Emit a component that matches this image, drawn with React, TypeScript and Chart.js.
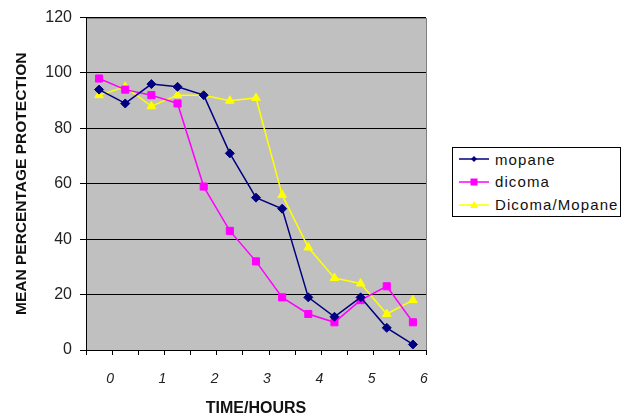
import React, { useEffect, useRef } from "react";
import { Chart, registerables } from "chart.js";

Chart.register(...registerables);

const timeLabels = ["0", "0.5", "1", "1.5", "2", "2.5", "3", "3.5", "4", "4.5", "5", "5.5", "6"];
const mopane = [94, 89, 96, 95, 92, 71, 55, 51, 19, 12, 19, 8, 2];
const dicoma = [98, 94, 92, 89, 59, 43, 32, 19, 13, 10, 18, 23, 10];
const dicomaMopane = [92, 95, 88, 92, 92, 90, 91, 56, 37, 26, 24, 13, 18];
const yTicks = { min: 0, max: 120, step: 20 };

const seriesNames = ["mopane", "dicoma", "Dicoma/Mopane"];
const seriesColors = ["#000080", "#FF00FF", "#FFFF00"];
const seriesMarkers = ["rectRot", "rect", "triangle"];

const FONT = "'Liberation Sans', Arial, sans-serif";

const plotBg = {
  id: "plotBg",
  beforeDraw(chart: any) {
    const { ctx, chartArea: a } = chart;
    ctx.save();
    ctx.fillStyle = "#C0C0C0";
    ctx.fillRect(a.left, a.top, a.right - a.left, a.bottom - a.top);
    ctx.strokeStyle = "#808080";
    ctx.lineWidth = 1;
    ctx.strokeRect(Math.round(a.left) + 0.5, Math.round(a.top) + 0.5, Math.round(a.right - a.left), Math.round(a.bottom - a.top));
    ctx.restore();
  },
};

function Marker({ kind, color }: { kind: string; color: string }) {
  let shape: any;
  if (kind === "rectRot") shape = <polygon points="15,2 18,5 15,8 12,5" fill={color} />;
  else if (kind === "rect") shape = <rect x={11.5} y={1.5} width={7} height={7} fill={color} />;
  else shape = <polygon points="15,1 19,8 11,8" fill={color} />;
  return (
    <svg width={30} height={10} style={{ display: "block" }}>
      <line x1={0} y1={5} x2={30} y2={5} stroke={color} strokeWidth={1.5} />
      {shape}
    </svg>
  );
}

export default function App() {
  const ref = useRef<HTMLCanvasElement>(null);
  useEffect(() => {
    const values = [mopane, dicoma, dicomaMopane];
    const chart = new Chart(ref.current as HTMLCanvasElement, {
      type: "line",
      data: {
        labels: timeLabels,
        datasets: values.map((d, i) => ({
          label: seriesNames[i],
          data: d,
          borderColor: seriesColors[i],
          backgroundColor: seriesColors[i],
          pointBackgroundColor: seriesColors[i],
          pointBorderColor: seriesColors[i],
          pointStyle: seriesMarkers[i] as any,
          pointRadius: i === 1 ? 5 : i === 0 ? 4.5 : 5,
          pointBorderWidth: 1,
          borderWidth: 1.5,
          tension: 0,
          fill: false,
        })),
      },
      options: {
        responsive: false,
        animation: false,
        layout: { padding: { top: 15, right: 203, bottom: 0, left: 0 } },
        plugins: { legend: { display: false }, tooltip: { enabled: false } },
        scales: {
          x: {
            type: "category",
            offset: true,
            afterFit: (s: any) => {
              s.height = 68;
            },
            grid: { offset: true, drawOnChartArea: false, drawTicks: true, tickLength: 5, color: "#000", lineWidth: 1 },
            border: { color: "#000", width: 1 },
            ticks: {
              autoSkip: false,
              maxRotation: 0,
              minRotation: 0,
              labelOffset: 11,
              padding: 16,
              color: "#222",
              font: { family: FONT, size: 14, style: "italic" },
              callback: (_v: any, i: number) => (Number(timeLabels[i]) % 1 === 0 ? timeLabels[i] : ""),
            },
            title: {
              display: true,
              text: "TIME/HOURS",
              color: "#111",
              font: { family: FONT, size: 16, weight: "bold" },
              padding: { top: 0, bottom: 0 },
            },
          },
          y: {
            min: yTicks.min,
            max: yTicks.max,
            afterFit: (s: any) => {
              s.width = 86;
            },
            grid: { color: "#000", lineWidth: 1, drawTicks: true, tickLength: 6 },
            border: { color: "#000", width: 1 },
            ticks: {
              stepSize: yTicks.step,
              padding: 8,
              color: "#222",
              font: { family: FONT, size: 16 },
            },
            title: {
              display: true,
              text: "MEAN PERCENTAGE PROTECTION",
              color: "#111",
              font: { family: FONT, size: 15.5, weight: "bold" },
              padding: { top: 12, bottom: 0 },
            },
          },
        },
      },
      plugins: [plotBg],
    });
    return () => chart.destroy();
  }, []);

  return (
    <div style={{ position: "fixed", left: 0, top: 0, width: 629, height: 418, background: "#fff" }}>
      <canvas ref={ref} width={629} height={418} />
      <div
        style={{
          position: "absolute",
          left: 452,
          top: 147,
          width: 169,
          height: 70,
          border: "1px solid #000",
          background: "#fff",
          fontFamily: FONT,
          fontSize: 15,
          letterSpacing: "1.1px",
          color: "#111",
          display: "flex",
          flexDirection: "column",
          justifyContent: "space-around",
          paddingLeft: 6,
          boxSizing: "border-box",
        }}
      >
        {seriesNames.map((n, i) => (
          <div key={n} style={{ display: "flex", alignItems: "center", height: 22 }}>
            <Marker kind={seriesMarkers[i]} color={seriesColors[i]} />
            <span style={{ marginLeft: 6 }}>{n}</span>
          </div>
        ))}
      </div>
    </div>
  );
}
